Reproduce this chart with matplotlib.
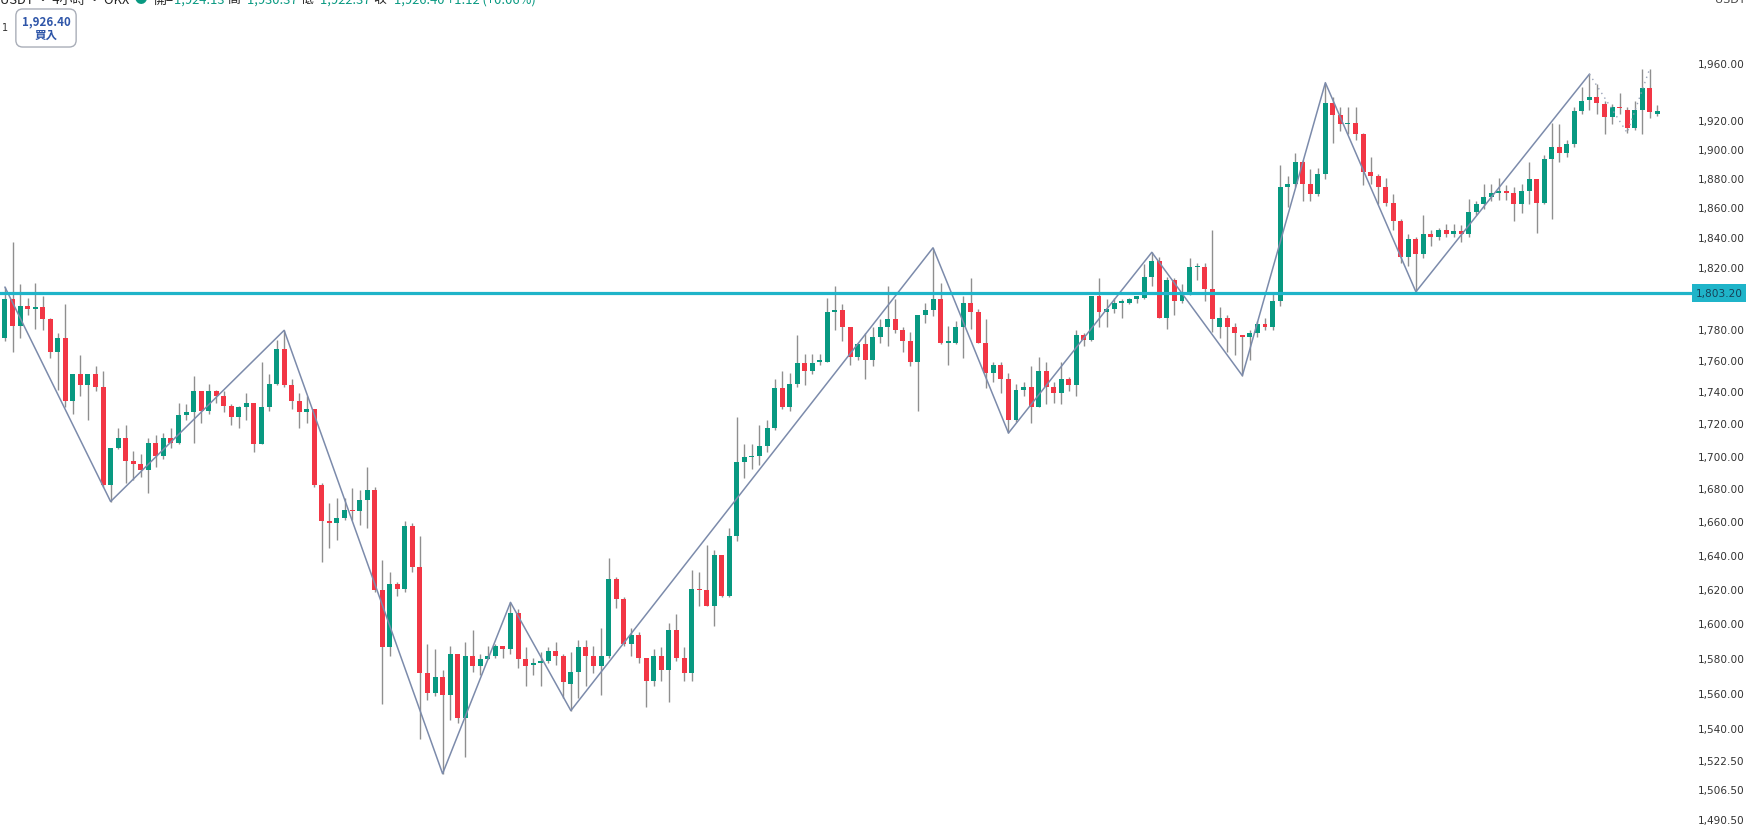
import matplotlib
matplotlib.use('Agg')
import matplotlib.pyplot as plt
import numpy as np

# 4h candles
opens = [1774, 1799, 1782, 1795, 1793, 1794, 1786, 1765, 1774, 1734,
         1751, 1744, 1751, 1743, 1682, 1705, 1711, 1697, 1695, 1691,
         1708, 1700, 1711, 1708, 1725, 1727, 1740, 1728, 1740, 1737,
         1731, 1724, 1730, 1733, 1707, 1730, 1745, 1767, 1744, 1734,
         1727, 1729, 1682, 1660, 1659, 1662, 1667, 1666, 1673, 1679,
         1619, 1586, 1623, 1620, 1657, 1633, 1571, 1560, 1569, 1559,
         1582, 1546, 1581, 1575, 1579, 1581, 1587, 1585, 1606, 1579,
         1576, 1577, 1578, 1584, 1581, 1565, 1572, 1586, 1581, 1575,
         1581, 1626, 1614, 1588, 1593, 1580, 1567, 1581, 1573, 1596,
         1580, 1571, 1620, 1619, 1610, 1640, 1616, 1651, 1696, 1699,
         1700, 1706, 1717, 1742, 1730, 1745, 1758, 1753, 1759, 1759,
         1791, 1792, 1781, 1762, 1770, 1760, 1775, 1781, 1786, 1779,
         1772, 1759, 1789, 1792, 1799, 1771, 1771, 1781, 1797, 1791,
         1771, 1752, 1757, 1748, 1722, 1741, 1743, 1730, 1753, 1743,
         1739, 1748, 1744, 1776, 1773, 1801, 1791, 1793, 1797, 1797,
         1799, 1800, 1814, 1824, 1787, 1812, 1798, 1803, 1820, 1820,
         1806, 1781, 1787, 1781, 1776, 1775, 1777, 1783, 1781, 1798,
         1874, 1876, 1891, 1876, 1869, 1883, 1932, 1923, 1917, 1918,
         1910, 1884, 1881, 1874, 1863, 1851, 1827, 1839, 1829, 1842,
         1840, 1845, 1842, 1844, 1842, 1857, 1862, 1867, 1870, 1871,
         1870, 1862, 1871, 1879, 1863, 1893, 1901, 1897, 1903, 1926,
         1934, 1936, 1931, 1922, 1929, 1927, 1914, 1927, 1942, 1924.13]
highs = [1807, 1837, 1809, 1800, 1810, 1801, 1787, 1777, 1796, 1751,
         1763, 1751, 1756, 1753, 1705, 1717, 1719, 1703, 1701, 1711,
         1713, 1714, 1717, 1733, 1732, 1750, 1740, 1745, 1741, 1740,
         1732, 1731, 1739, 1733, 1759, 1751, 1773, 1779, 1748, 1739,
         1737, 1729, 1683, 1671, 1674, 1674, 1680, 1679, 1693, 1681,
         1637, 1630, 1624, 1660, 1659, 1651, 1588, 1585, 1573, 1587,
         1582, 1589, 1596, 1582, 1587, 1588, 1587, 1612, 1608, 1586,
         1580, 1583, 1586, 1589, 1582, 1583, 1590, 1590, 1587, 1597,
         1638, 1627, 1615, 1597, 1595, 1580, 1585, 1586, 1600, 1605,
         1586, 1631, 1630, 1646, 1643, 1640, 1656, 1724, 1707, 1707,
         1719, 1722, 1748, 1753, 1752, 1776, 1764, 1764, 1764, 1800,
         1808, 1796, 1781, 1771, 1777, 1781, 1786, 1808, 1799, 1781,
         1778, 1789, 1797, 1833, 1810, 1782, 1785, 1801, 1813, 1793,
         1786, 1759, 1759, 1752, 1745, 1746, 1756, 1762, 1759, 1746,
         1759, 1749, 1779, 1777, 1801, 1813, 1799, 1800, 1799, 1800,
         1801, 1822, 1830, 1827, 1814, 1813, 1809, 1826, 1823, 1823,
         1845, 1794, 1789, 1784, 1776, 1779, 1785, 1787, 1804, 1889,
         1881, 1897, 1892, 1886, 1887, 1946, 1936, 1929, 1929, 1929,
         1911, 1894, 1883, 1880, 1869, 1852, 1842, 1840, 1855, 1845,
         1846, 1849, 1849, 1848, 1866, 1864, 1876, 1876, 1880, 1875,
         1874, 1876, 1891, 1879, 1896, 1918, 1917, 1906, 1929, 1943,
         1952, 1945, 1933, 1931, 1939, 1929, 1933, 1956, 1956, 1930.37]
lows = [1772, 1765, 1774, 1789, 1780, 1779, 1761, 1741, 1730, 1726,
        1737, 1722, 1740, 1681, 1672, 1704, 1683, 1685, 1687, 1677,
        1693, 1698, 1705, 1707, 1722, 1708, 1720, 1726, 1733, 1727,
        1719, 1717, 1722, 1702, 1707, 1728, 1744, 1743, 1729, 1717,
        1720, 1681, 1636, 1644, 1649, 1661, 1661, 1658, 1656, 1618,
        1554, 1581, 1616, 1618, 1630, 1534, 1556, 1558, 1515, 1545,
        1543, 1524, 1572, 1570, 1579, 1580, 1580, 1582, 1574, 1564,
        1570, 1564, 1577, 1576, 1557, 1550, 1557, 1564, 1571, 1559,
        1580, 1609, 1587, 1581, 1577, 1552, 1564, 1567, 1555, 1578,
        1567, 1567, 1610, 1610, 1598, 1615, 1615, 1648, 1686, 1692,
        1694, 1702, 1716, 1729, 1728, 1743, 1744, 1751, 1757, 1759,
        1779, 1772, 1757, 1760, 1748, 1756, 1771, 1769, 1777, 1765,
        1756, 1728, 1784, 1788, 1770, 1757, 1770, 1761, 1780, 1771,
        1742, 1746, 1739, 1714, 1721, 1737, 1720, 1730, 1732, 1733,
        1732, 1740, 1737, 1769, 1772, 1781, 1781, 1790, 1787, 1796,
        1797, 1799, 1808, 1787, 1780, 1789, 1797, 1802, 1812, 1798,
        1778, 1774, 1765, 1763, 1750, 1760, 1775, 1779, 1779, 1795,
        1860, 1874, 1864, 1864, 1868, 1879, 1904, 1912, 1910, 1906,
        1875, 1876, 1862, 1861, 1845, 1823, 1821, 1804, 1826, 1834,
        1838, 1840, 1840, 1837, 1840, 1855, 1859, 1864, 1865, 1865,
        1851, 1856, 1862, 1843, 1862, 1852, 1891, 1894, 1901, 1924,
        1927, 1924, 1910, 1917, 1924, 1911, 1913, 1910, 1921, 1922.37]
closes = [1799, 1782, 1795, 1793, 1794, 1786, 1765, 1774, 1734, 1751,
          1744, 1751, 1743, 1682, 1705, 1711, 1697, 1695, 1691, 1708,
          1700, 1711, 1708, 1725, 1727, 1740, 1728, 1740, 1737, 1731,
          1724, 1730, 1733, 1707, 1730, 1745, 1767, 1744, 1734, 1727,
          1729, 1682, 1660, 1659, 1662, 1667, 1666, 1673, 1679, 1619,
          1586, 1623, 1620, 1657, 1633, 1571, 1560, 1569, 1559, 1582,
          1546, 1581, 1575, 1579, 1581, 1587, 1585, 1606, 1579, 1575,
          1577, 1578, 1584, 1581, 1566, 1572, 1586, 1581, 1575, 1581,
          1626, 1614, 1588, 1593, 1580, 1567, 1581, 1573, 1596, 1580,
          1571, 1620, 1619, 1610, 1640, 1616, 1651, 1696, 1699, 1700,
          1706, 1717, 1742, 1730, 1745, 1758, 1753, 1758, 1760, 1791,
          1792, 1781, 1762, 1770, 1760, 1775, 1781, 1786, 1779, 1772,
          1759, 1789, 1792, 1799, 1771, 1772, 1781, 1797, 1791, 1771,
          1752, 1757, 1748, 1722, 1741, 1743, 1730, 1753, 1743, 1739,
          1748, 1744, 1776, 1773, 1801, 1791, 1793, 1797, 1798, 1799,
          1801, 1814, 1824, 1787, 1812, 1798, 1803, 1820, 1821, 1806,
          1786, 1787, 1781, 1777, 1775, 1777, 1783, 1781, 1798, 1874,
          1876, 1891, 1876, 1869, 1883, 1932, 1923, 1917, 1918, 1910,
          1884, 1881, 1874, 1863, 1851, 1827, 1839, 1829, 1842, 1840,
          1845, 1842, 1844, 1842, 1857, 1862, 1867, 1870, 1871, 1870,
          1862, 1871, 1879, 1863, 1893, 1901, 1897, 1903, 1926, 1933,
          1936, 1932, 1922, 1929, 1928, 1914, 1927, 1942, 1925.28, 1926.40]

# zigzag pivots (candle index, price)
zz_idx = [0, 14, 37, 58, 67, 75, 123, 133, 152, 164, 175, 187, 210]
zz_price = [1807, 1672, 1779, 1515, 1612, 1550, 1833, 1714, 1830, 1750, 1946, 1804, 1952]
# leg still forming (dotted)
dot_idx = [210, 215, 218]
dot_price = [1952, 1911, 1956]

level = 1803.20
ytick_vals = [1490.5, 1506.5, 1522.5, 1540, 1560, 1580, 1600, 1620, 1640, 1660,
              1680, 1700, 1720, 1740, 1760, 1780, 1820, 1840, 1860, 1880,
              1900, 1920, 1960]

hdr_title = 'USDT · 4小時 · OKX'
hdr_labels = ['開=', '高=', '低=', '收=']
hdr_values = ['1,924.13', '1,930.37', '1,922.37', '1,926.40']
hdr_change = '+1.12 (+0.06%)'

GREEN = '#089981'
RED = '#f23645'
cjk = ['Noto Sans CJK TC', 'DejaVu Sans']

W, H = 1750, 828
fig = plt.figure(figsize=(W / 100, H / 100), dpi=100)
fig.patch.set_facecolor('white')
ax = fig.add_axes([0, 0, 1692 / W, 1])

o = np.array(opens, dtype=float)
h = np.array(highs, dtype=float)
l = np.array(lows, dtype=float)
c = np.array(closes, dtype=float)
x = np.arange(len(o))
cols = np.where(c >= o, GREEN, RED)

# wicks + bodies
ax.vlines(x, l, h, colors='#8f8f8f', linewidth=1.0, zorder=2)
bot = np.minimum(o, c)
hgt = np.maximum(np.abs(c - o), 0.8)
ax.bar(x, hgt, bottom=bot, width=0.66, color=cols, linewidth=0, zorder=3)

# zigzag
ax.plot(zz_idx, zz_price, color='#7c8bab', linewidth=1.1, zorder=4)
ax.plot(dot_idx, dot_price, color='#9aa3b8', linewidth=1.0, linestyle=(0, (1, 3)), zorder=4)

# horizontal level
ax.axhline(level, color='#1fb4c9', linewidth=2.3, zorder=5)

ax.set_yscale('log')
ax.set_ylim(1486.0, 2005.9)
ax.set_xlim(-0.66, -0.66 + 1692 / 7.545)
ax.set_yticks(ytick_vals)
ax.set_yticklabels([f'{v:,.2f}' for v in ytick_vals])
ax.yaxis.set_minor_locator(matplotlib.ticker.NullLocator())
ax.yaxis.tick_right()
ax.tick_params(axis='y', length=0, pad=4, labelsize=7.6, labelcolor='#333333')
ax.set_xticks([])
for s in ax.spines.values():
    s.set_visible(False)

# price tag on the level
ax.annotate(f'{level:,.2f}', xy=(1, level), xycoords=ax.get_yaxis_transform(),
            xytext=(2.6, 0), textcoords='offset points', ha='left', va='center',
            fontsize=7.6, color='#16425a',
            bbox=dict(boxstyle='square,pad=0.36', fc='#1fb4c9', ec='none'),
            annotation_clip=False)

# header line, half cut by the top edge like the screenshot
anchor = fig.text(0.0, 1.0, hdr_title, family=cjk, fontsize=9.3,
                  color='#222222', ha='left', va='center')
pieces = [('  ●  ', GREEN)]
for lab, val in zip(hdr_labels, hdr_values):
    pieces.append((lab, '#222222'))
    pieces.append((val + ' ', GREEN))
pieces.append((hdr_change, GREEN))
for s, col in pieces:
    anchor = ax.annotate(s, xy=(1, 0.5), xycoords=anchor, ha='left', va='center',
                         family=cjk, fontsize=9.3, color=col, annotation_clip=False)

# small "1" and buy button top-left
fig.text(2 / W, 1 - 28 / H, '1', fontsize=7, color='#333333', ha='left', va='center')
fig.text(46 / W, 1 - 29 / H, '1,926.40\n買入', family=cjk, fontsize=8.3,
         fontweight='semibold', color='#2e55a8', ha='center', va='center',
         linespacing=1.05,
         bbox=dict(boxstyle='round,pad=0.5,rounding_size=0.6', fc='white',
                   ec='#a9aeb8', lw=1.0))

# currency label at top right, cut off
fig.text(1745 / W, 1.0, 'USDT', fontsize=8, color='#444444', ha='right', va='center')

fig.savefig('out.png', dpi=100)
